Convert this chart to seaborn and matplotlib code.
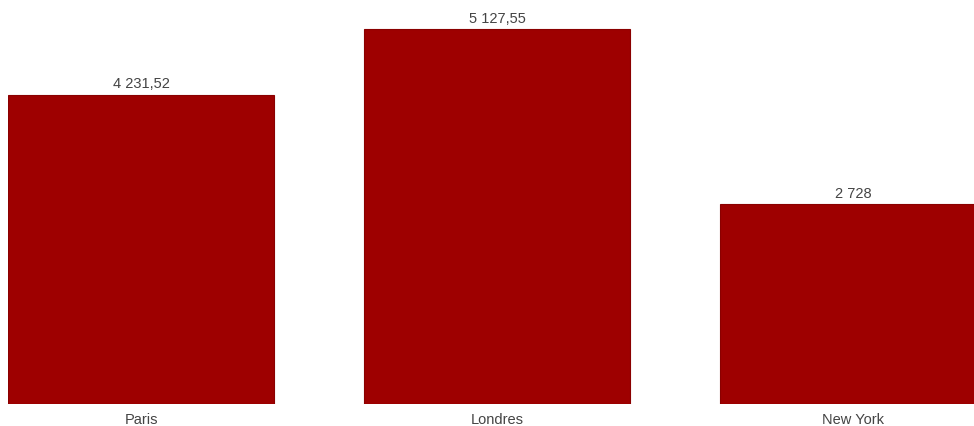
import matplotlib
matplotlib.use("Agg")
import matplotlib.pyplot as plt
import seaborn as sns
import pandas as pd

cities = ["Paris", "Londres", "New York"]
values = [4231.52, 5127.55, 2728]

def fmt(v):
    if float(v).is_integer():
        s = f"{int(v):,}".replace(",", " ")
    else:
        s = f"{v:,.2f}".replace(",", " ").replace(".", ",")
    return s

sns.set_theme(style="white")
plt.rcParams['font.family'] = ['Liberation Sans', 'DejaVu Sans']

df = pd.DataFrame({"city": cities, "value": values})
fig = plt.figure(figsize=(9.74, 4.27), dpi=100)
ax = fig.add_axes([8/974, 22/427, 1 - 8/974, 405/427])
width = 266/356
sns.barplot(data=df, x="city", y="value", color="#9e0000", width=width,
            saturation=1, ax=ax, edgecolor="#8a0000", linewidth=0.8)
ax.set_xlim(-133/356, (974 - 141)/356)
ax.set_ylim(0, 5127.55 * 405 / 375)
for i, v in enumerate(values):
    ax.annotate(fmt(v), (i, v), xytext=(0, 3), textcoords="offset points",
                ha="center", va="bottom", fontsize=10.5, color="#444444")
ax.set_xlabel("")
ax.set_ylabel("")
ax.set_yticks([])
ax.tick_params(axis="x", length=0, pad=6, labelsize=10.5, labelcolor="#444444")
for s in ax.spines.values():
    s.set_visible(False)
fig.savefig("out.png", dpi=100)
